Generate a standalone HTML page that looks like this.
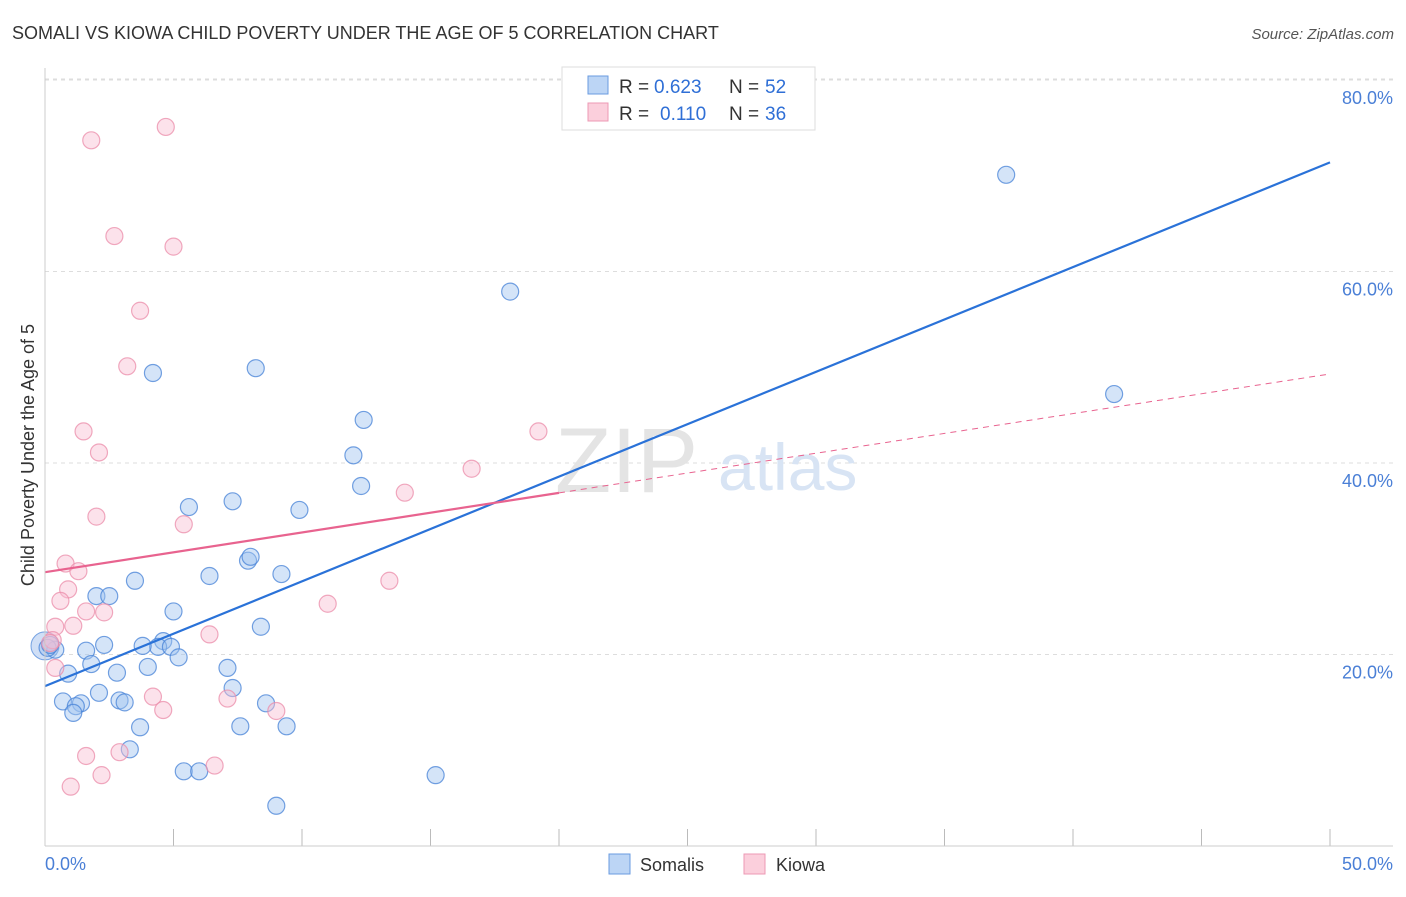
<!DOCTYPE html>
<html><head><meta charset="utf-8"><style>
body{margin:0;background:#fff;font-family:"Liberation Sans",sans-serif;}
svg text{font-family:"Liberation Sans",sans-serif;}
</style></head><body>
<svg width="1406" height="892">
<text x="12" y="39" font-size="18" fill="#333">SOMALI VS KIOWA CHILD POVERTY UNDER THE AGE OF 5 CORRELATION CHART</text>
<text x="1394" y="39" font-size="15" fill="#555" text-anchor="end" font-style="italic">Source: ZipAtlas.com</text>
<text x="34" y="455" font-size="18" fill="#333" text-anchor="middle" transform="rotate(-90 34 455)">Child Poverty Under the Age of 5</text>
<g id="grid"></g>
<text x="555" y="492" font-size="92" fill="#e4e4e4" font-family="Liberation Serif">ZIP</text>
<text x="718" y="490" font-size="66" fill="#d8e4f4">atlas</text>
<g id="pts"></g>
<g id="lines"></g>
<line x1="45" y1="68" x2="45" y2="846" stroke="#ccc"/>
<line x1="45" y1="846" x2="1393" y2="846" stroke="#ccc"/>
<text x="45" y="870" font-size="18" fill="#4a7fd6">0.0%</text>
<text x="1393" y="870" font-size="18" fill="#4a7fd6" text-anchor="end">50.0%</text>
<g>
<rect x="562" y="67" width="253" height="63" fill="#fff" stroke="#ddd"/>
<rect x="588" y="76" width="20" height="18" fill="#bcd5f5" stroke="#6a9be0"/>
<rect x="588" y="103" width="20" height="18" fill="#fbcfdc" stroke="#ec9ab4"/>
<text x="619" y="93" font-size="19" fill="#333">R =</text>
<text x="654" y="93" font-size="19" fill="#2f6fd6">0.623</text>
<text x="729" y="93" font-size="19" fill="#333">N =</text>
<text x="765" y="93" font-size="19" fill="#2f6fd6">52</text>
<text x="619" y="120" font-size="19" fill="#333">R =</text>
<text x="660" y="120" font-size="19" fill="#2f6fd6">0.110</text>
<text x="729" y="120" font-size="19" fill="#333">N =</text>
<text x="765" y="120" font-size="19" fill="#2f6fd6">36</text>
</g>
<g>
<rect x="609" y="854" width="21" height="20" fill="#bcd5f5" stroke="#6a9be0"/>
<text x="640" y="871" font-size="18" fill="#333">Somalis</text>
<rect x="744" y="854" width="21" height="20" fill="#fbcfdc" stroke="#ec9ab4"/>
<text x="776" y="871" font-size="18" fill="#333">Kiowa</text>
</g>
</svg>
<script>
const yTicks=[20,40,60,80];
const xTicks=[5,10,15,20,25,30,35,40,45,50];
const somaliX=[37.4,18.1,41.6,4.2,8.2,12.4,12.0,12.3,5.6,7.3,9.9,7.9,8.0,9.2,6.4,3.5,2.0,2.5,5.0,8.4,4.6,4.4,3.8,4.9,5.2,2.3,1.6,0.4,0.1,4.0,1.8,2.8,0.9,7.1,7.3,2.1,0.7,1.4,1.2,2.9,3.1,1.1,8.6,9.4,7.6,3.7,3.3,5.4,6.0,15.2,9.0,0.2];
const somaliY=[70.1,57.9,47.2,49.4,49.9,44.5,40.8,37.6,35.4,36.0,35.1,29.8,30.2,28.4,28.2,27.7,26.1,26.1,24.5,22.9,21.4,20.8,20.9,20.8,19.7,21.0,20.4,20.5,20.7,18.7,19.0,18.1,18.0,18.6,16.5,16.0,15.1,14.9,14.6,15.2,15.0,13.9,14.9,12.5,12.5,12.4,10.1,7.8,7.8,7.4,4.2,21.0];
const kiowaX=[4.7,1.8,2.7,5.0,3.7,3.2,1.5,2.1,19.2,16.6,14.0,2.0,5.4,0.8,1.3,0.9,0.6,1.6,2.3,11.0,13.4,1.1,0.4,6.4,0.3,0.4,4.2,7.1,4.6,9.0,1.6,2.9,6.6,2.2,1.0,0.2];
const kiowaY=[75.1,73.7,63.7,62.6,55.9,50.1,43.3,41.1,43.3,39.4,36.9,34.4,33.6,29.5,28.7,26.8,25.6,24.5,24.4,25.3,27.7,23.0,22.9,22.1,21.5,18.6,15.6,15.4,14.2,14.1,9.4,9.8,8.4,7.4,6.2,21.2];
const somaliTrend=[16.7,71.4];
const kiowaTrend=[28.6,49.3];
const kiowaSolidEnd=20;
const NS="http://www.w3.org/2000/svg";
const sx=v=>45+v*(1285/50);
const sy=v=>846-v*(191.5/20);
function mk(t,a,p){const e=document.createElementNS(NS,t);for(const k in a)e.setAttribute(k,a[k]);p.appendChild(e);return e;}
const grid=document.getElementById('grid');
yTicks.forEach(t=>{
 const l=mk('line',{x1:45,x2:1393,y1:sy(t),y2:sy(t),stroke:'#ddd','stroke-dasharray':'4,4'},grid);
 
 
 const tx=mk('text',{x:1393,y:sy(t)+24,'font-size':18,fill:'#4a7fd6','text-anchor':'end'},grid);
 tx.textContent=t.toFixed(1)+'%';
 
 
});
const topGrid=mk('line',{x1:45,x2:1393,y1:79,y2:79,stroke:'#ddd','stroke-dasharray':'4,4'},grid);


xTicks.forEach(t=>{
 const l=mk('line',{x1:sx(t),x2:sx(t),y1:829,y2:846,stroke:'#bbb'},grid);
 
 
});
const pts=document.getElementById('pts');
const big1=mk('circle',{cx:sx(0),cy:sy(20.9),r:14,fill:'rgba(150,185,235,0.45)',stroke:'rgba(70,130,215,0.7)'},pts);


somaliX.forEach((x,i)=>{
 const c=mk('circle',{cx:sx(x),cy:sy(somaliY[i]),r:8.5,fill:'rgba(160,195,240,0.45)',stroke:'rgba(70,130,215,0.75)','stroke-width':1.2},pts);
 
 
});
kiowaX.forEach((x,i)=>{
 const c=mk('circle',{cx:sx(x),cy:sy(kiowaY[i]),r:8.5,fill:'rgba(248,190,210,0.45)',stroke:'rgba(235,140,170,0.75)','stroke-width':1.2},pts);
 
 
});
const ln=document.getElementById('lines');
const b=mk('line',{x1:sx(0),y1:sy(somaliTrend[0]),x2:sx(50),y2:sy(somaliTrend[1]),stroke:'#2a72d8','stroke-width':2.2},ln);


const kAt=x=>kiowaTrend[0]+(kiowaTrend[1]-kiowaTrend[0])*x/50;
const k1=mk('line',{x1:sx(0),y1:sy(kAt(0)),x2:sx(kiowaSolidEnd),y2:sy(kAt(kiowaSolidEnd)),stroke:'#e8638f','stroke-width':2.2},ln);


const k2=mk('line',{x1:sx(kiowaSolidEnd),y1:sy(kAt(kiowaSolidEnd)),x2:sx(50),y2:sy(kAt(50)),stroke:'#e8638f','stroke-width':1,'stroke-dasharray':'6,5'},ln);


</script>
</body></html>
